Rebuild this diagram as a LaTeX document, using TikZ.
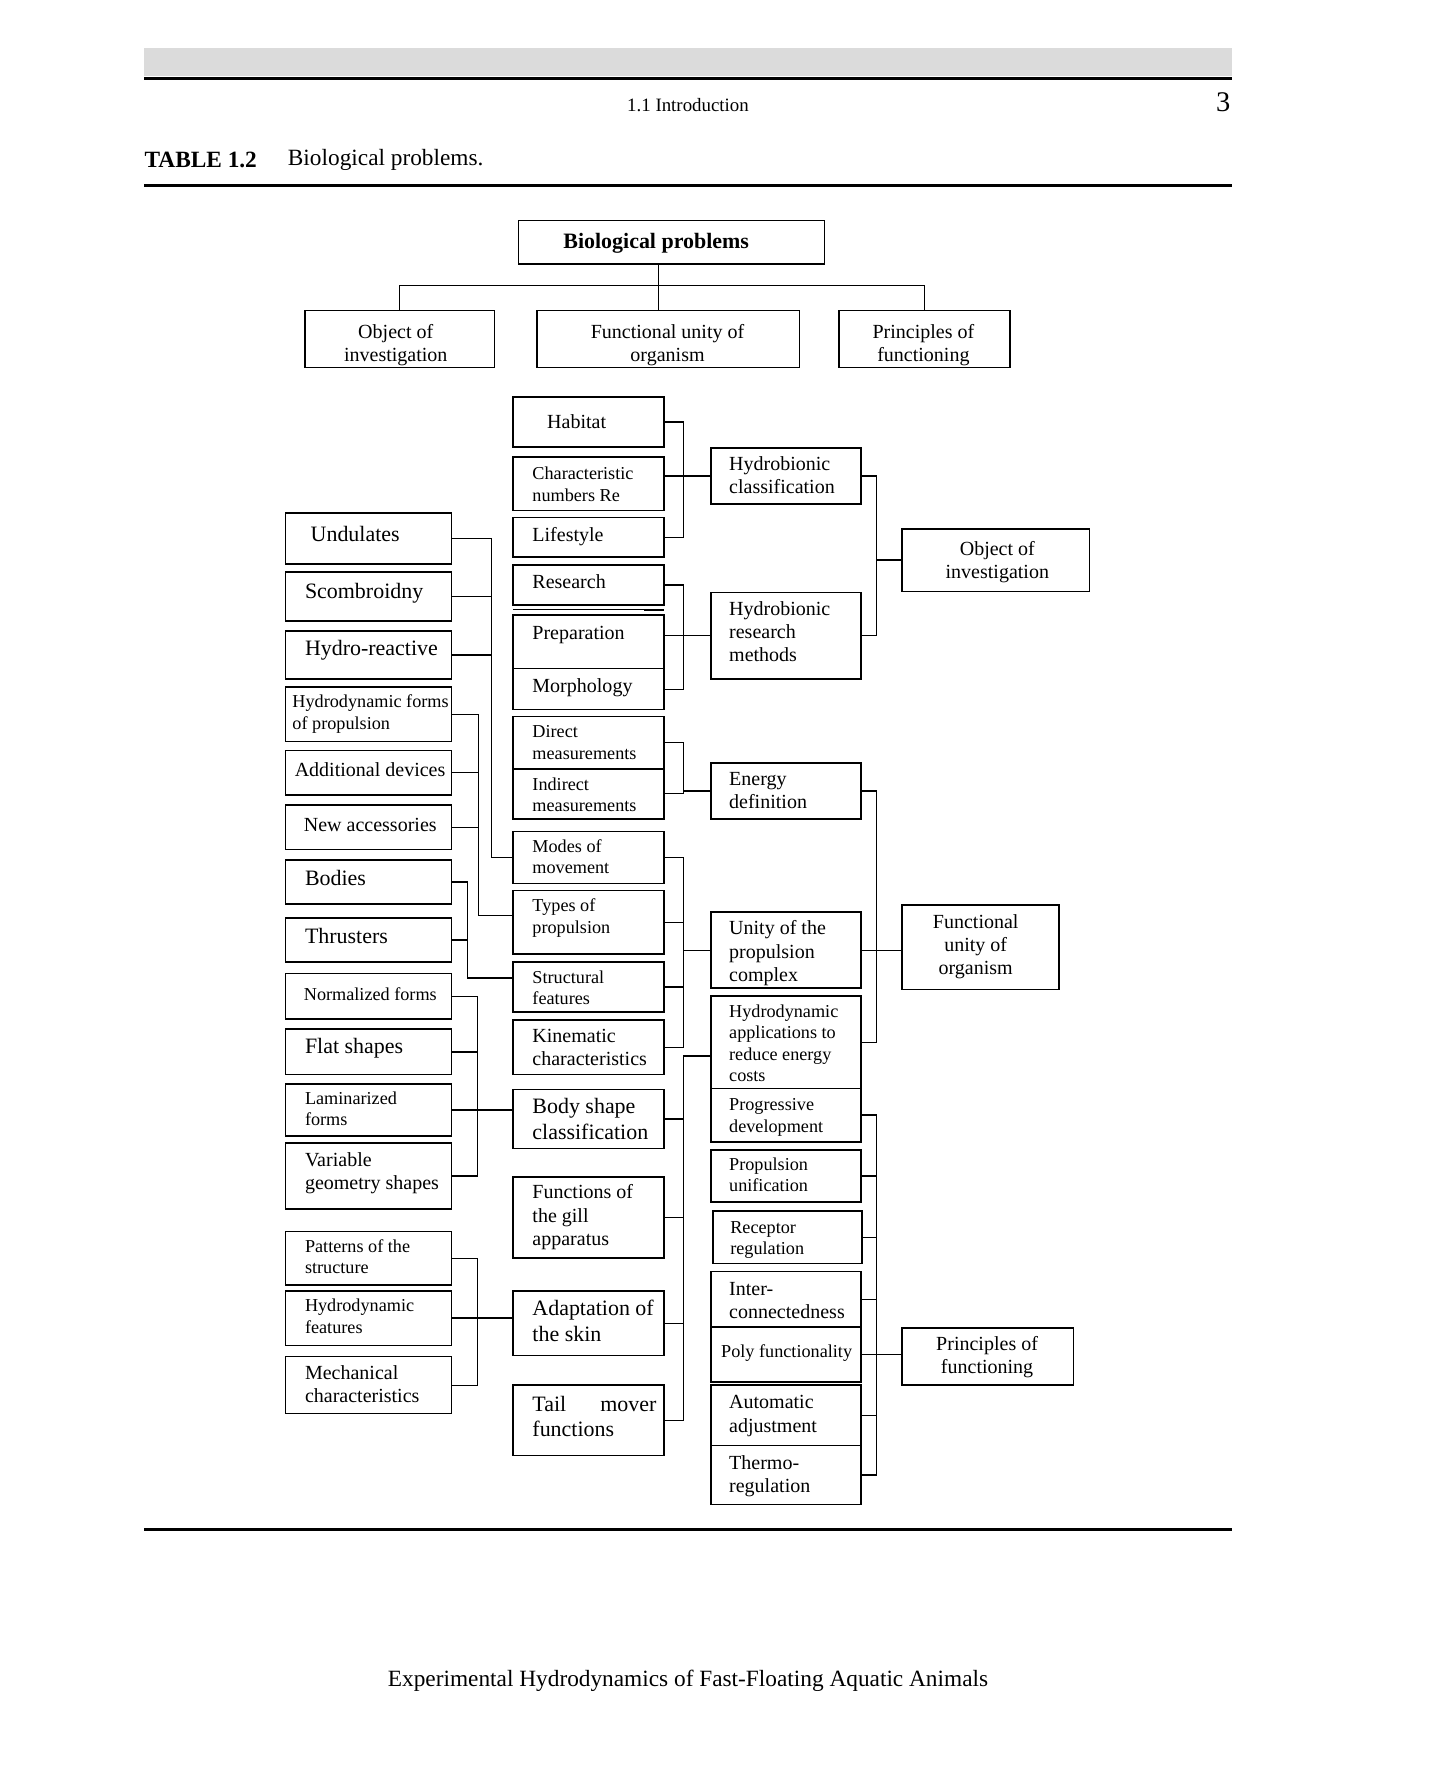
\documentclass[tikz,border=0pt]{standalone}
\usepackage{fontspec}
\setmainfont{Liberation Serif}
\usetikzlibrary{calc}
\newcommand\fbig{\fontsize{19.3}{22.5}\selectfont}
\newcommand\fmed{\fontsize{17.6}{20.5}\selectfont}
\newcommand\fsml{\fontsize{16}{18.8}\selectfont}
\newcommand\bx[5]{\node[bx, minimum width={#4-#2}, minimum height={#5-#3}] (#1) at ({(#2+#4)/2},{(#3+#5)/2}) {};}
\newcommand\lb[5]{\node[tx,font=#2] (#1t) at (#3,#4) {#5};}
\newcommand\nl{\\\strut}
\begin{document}
\begin{tikzpicture}[x=1pt,y=-1pt,
  bx/.style={draw,line width=1.4pt,inner sep=0pt,outer sep=0pt},
  tx/.style={anchor=west,inner sep=0pt,align=left,yshift=-2pt},
  ctx/.style={anchor=center,inner sep=0pt,align=center,yshift=-2pt},
  ln/.style={line width=1.1pt}]
\useasboundingbox (0,0) rectangle (1271,1567);
% page furniture
\fill[gray!28] (127,42) rectangle (1083,67);
\draw[line width=3pt] (127,69) -- (1083,69);
\node[font=\fontsize{16.6}{19}\selectfont] (hdr) at (605,92) {1.1 Introduction};
\node[font=\fontsize{25}{28}\selectfont,anchor=east,inner sep=0pt] (pg) at (1082,90) {3};
\node[font=\fontsize{20.5}{24}\selectfont\bfseries,anchor=west,inner sep=0pt] (tabl) at (127,141) {TABLE 1.2};
\node[font=\fontsize{20.5}{24}\selectfont,anchor=west,inner sep=0pt] (tabt) at (253,141) {Biological problems.};
\draw[line width=3pt] (127,163) -- (1083,163);
\draw[line width=3pt] (127,1345) -- (1083,1345);
\node[font=\fontsize{20.5}{24}\selectfont] (foot) at (605,1478) {Experimental Hydrodynamics of Fast-Floating Aquatic Animals};

% top tree
\bx{bp}{456}{194}{725}{232}
\bx{oi}{268}{273}{435}{323}
\bx{fu}{472}{273}{703}{323}
\bx{pf}{738}{273}{888}{323}
\node[ctx,font=\fbig\bfseries] (bpt) at (577,212) {Biological problems};
\node[ctx,font=\fmed] (oit) at (348,301.5) {\strut Object of\nl investigation};
\node[ctx,font=\fmed] (fut) at (587,301.5) {\strut Functional unity of\nl organism};
\node[ctx,font=\fmed] (pft) at (812,301.5) {\strut Principles of\nl functioning};
\coordinate (tj) at (579,251);
\draw[ln] (bp.south -| tj) -- (fu.north -| tj);
\draw[ln] (oi.north) |- (tj) -| (pf.north);

% middle column
\bx{hab}{451}{349}{584}{393}
\bx{chr}{451}{402}{584}{449}
\bx{lif}{451}{455}{584}{490}
\bx{res}{451}{497}{584}{532}
\bx{pre}{451}{541}{584}{588}
\bx{mor}{451}{588}{584}{624}
\bx{dir}{451}{630}{584}{676}
\bx{ind}{451}{676}{584}{720}
\bx{mom}{451}{731}{584}{777}
\bx{typ}{451}{783}{584}{839}
\bx{str}{451}{846}{584}{890}
\bx{kin}{451}{897}{584}{945}
\bx{bsc}{451}{958}{584}{1010}
\bx{gil}{451}{1035}{584}{1106}
\bx{ada}{451}{1135}{584}{1192}
\bx{tai}{451}{1218}{584}{1280}
\draw[line width=0.9pt] ([yshift=5pt]pre.north west) -- ([yshift=5pt]pre.north east);
\draw[line width=1.8pt] ([yshift=5pt,xshift=-18pt]pre.north east) -- ([yshift=5pt]pre.north east);
\lb{hab}{\fmed}{481}{371}{\strut Habitat}
\lb{chr}{\fsml}{468}{425.5}{\strut Characteristic\nl numbers Re}
\lb{lif}{\fmed}{468}{470}{\strut Lifestyle}
\lb{res}{\fmed}{468}{511}{\strut Research}
\lb{pre}{\fmed}{468}{556}{\strut Preparation}
\lb{mor}{\fmed}{468}{603}{\strut Morphology}
\lb{dir}{\fsml}{468}{652.5}{\strut Direct\nl measurements}
\lb{ind}{\fsml}{468}{698.5}{\strut Indirect\nl measurements}
\lb{mom}{\fsml}{468}{753}{\strut Modes of\nl movement}
\lb{typ}{\fsml}{468}{805.5}{\strut Types of\nl propulsion}
\lb{str}{\fsml}{468}{868.5}{\strut Structural\nl features}
\lb{kin}{\fmed}{468}{921}{\strut Kinematic\nl characteristics}
\lb{bsc}{\fbig}{468}{984}{\strut Body shape\nl classification}
\lb{gil}{\fmed}{468}{1068.5}{\strut Functions of\nl the gill\nl apparatus}
\lb{ada}{\fbig}{468}{1161.5}{\strut Adaptation of\nl the skin}
\lb{tai}{\fbig}{468}{1245.5}{\strut\makebox[109pt][s]{Tail mover}\nl functions}

% third column
\bx{hc}{625}{394}{757}{443}
\bx{hrm}{625}{521}{757}{597}
\bx{en}{625}{671}{757}{720}
\bx{upc}{625}{802}{757}{869}
\bx{ha}{625}{876}{757}{957}
\bx{pd}{625}{957}{757}{1004}
\bx{pu}{625}{1011}{757}{1057}
\bx{rr}{627}{1065}{758}{1111}
\bx{ic}{625}{1118}{757}{1167}
\bx{pfy}{625}{1167}{757}{1215}
\bx{aa}{625}{1218}{757}{1271}
\bx{tr}{625}{1271}{757}{1323}
\lb{hc}{\fmed}{641}{417.5}{\strut Hydrobionic\nl classification}
\lb{hrm}{\fmed}{641}{555.5}{\strut Hydrobionic\nl research\nl methods}
\lb{en}{\fmed}{641}{695}{\strut Energy\nl definition}
\lb{upc}{\fmed}{641}{836.5}{\strut Unity of the\nl propulsion\nl complex}
\lb{ha}{\fsml}{641}{917}{\strut Hydrodynamic\nl applications to\nl reduce energy\nl costs}
\lb{pd}{\fsml}{641}{980.5}{\strut Progressive\nl development}
\lb{pu}{\fsml}{641}{1033}{\strut Propulsion\nl unification}
\lb{rr}{\fsml}{642}{1088}{\strut Receptor\nl regulation}
\lb{ic}{\fmed}{641}{1143}{\strut Inter-\nl connectedness}
\lb{pfy}{\fsml}{634}{1188}{\strut Poly functionality}
\lb{aa}{\fmed}{641}{1243}{\strut Automatic\nl adjustment}
\lb{tr}{\fmed}{641}{1296}{\strut Thermo-\nl regulation}

% fourth column
\bx{oi2}{793}{465}{958}{520}
\bx{fu2}{793}{796}{931}{870}
\bx{pf2}{793}{1168}{944}{1218}
\node[ctx,font=\fmed] (oi2t) at (877,492.5) {\strut Object of\nl investigation};
\node[ctx,font=\fmed] (fu2t) at (858,830.5) {\strut Functional\nl unity of\nl organism};
\node[ctx,font=\fmed] (pf2t) at (868,1191.5) {\strut Principles of\nl functioning};

% left column
\bx{und}{251}{451}{397}{496}
\bx{sco}{251}{503}{397}{546}
\bx{hre}{251}{555}{397}{597}
\bx{hfp}{251}{604}{397}{652}
\bx{add}{251}{660}{397}{699}
\bx{new}{251}{708}{397}{747}
\bx{bod}{251}{756}{397}{795}
\bx{thr}{251}{807}{397}{846}
\bx{nor}{251}{856}{397}{896}
\bx{fla}{251}{905}{397}{945}
\bx{lam}{251}{953}{397}{999}
\bx{var}{251}{1005}{397}{1063}
\bx{pat}{251}{1083}{397}{1130}
\bx{hdf}{251}{1135}{397}{1183}
\bx{mec}{251}{1193}{397}{1243}
\lb{und}{\fbig}{273}{470}{\strut Undulates}
\lb{sco}{\fbig}{268}{520}{\strut Scombroidny}
\lb{hre}{\fbig}{268}{570}{\strut Hydro-reactive}
\lb{hfp}{\fsml}{257}{626}{\strut Hydrodynamic forms\nl of propulsion}
\lb{add}{\fmed}{259}{677}{\strut Additional devices}
\lb{new}{\fmed}{267}{725}{\strut New accessories}
\lb{bod}{\fbig}{268}{772}{\strut Bodies}
\lb{thr}{\fbig}{268}{823}{\strut Thrusters}
\lb{nor}{\fsml}{267}{874}{\strut Normalized forms}
\lb{fla}{\fbig}{268}{920}{\strut Flat shapes}
\lb{lam}{\fsml}{268}{974.5}{\strut Laminarized\nl forms}
\lb{var}{\fmed}{268}{1029.5}{\strut Variable\nl geometry shapes}
\lb{pat}{\fsml}{268}{1105}{\strut Patterns of the\nl structure}
\lb{hdf}{\fsml}{268}{1157}{\strut Hydrodynamic\nl features}
\lb{mec}{\fmed}{268}{1217}{\strut Mechanical\nl characteristics}

% bus positions
\coordinate (b1) at (432,0);
\coordinate (b2) at (421,0);
\coordinate (b3) at (411,0);
\coordinate (b4) at (420,0);
\coordinate (bm) at (601,0);
\coordinate (br) at (771,0);
\coordinate (typj) at ([yshift=6pt]typ.west);
\coordinate (strj) at ([yshift=8pt]str.west);
\coordinate (haj) at ([yshift=-12pt]ha.west);

% left -> middle
\draw[ln] (und.east) -| (mom.west -| b1) -- (mom.west);
\draw[ln] (sco.east) -- (sco.east -| b1);
\draw[ln] (hre.east) -- (hre.east -| b1);
\draw[ln] (hfp.east) -| (typj -| b2) -- (typj);
\draw[ln] (add.east) -- (add.east -| b2);
\draw[ln] (new.east) -- (new.east -| b2);
\draw[ln] (bod.east) -| (strj -| b3) -- (strj);
\draw[ln] (thr.east) -- (thr.east -| b3);
\draw[ln] (nor.east) -| (var.east -| b4) -- (var.east);
\draw[ln] (fla.east) -- (fla.east -| b4);
\draw[ln] (lam.east) -- (lam.east -| bsc.west);
\draw[ln] (pat.east) -| (mec.east -| b4) -- (mec.east);
\draw[ln] (hdf.east) -- (hdf.east -| ada.west);

% middle -> third
\draw[ln] (hab.east) -| (lif.east -| bm) -- (lif.east);
\draw[ln] (hc.west) -- (hc.west -| chr.east);
\draw[ln] (res.east) -| (mor.east -| bm) -- (mor.east);
\draw[ln] (hrm.west) -- (hrm.west -| pre.east);
\draw[ln] (dir.east) -| (ind.east -| bm) -- (ind.east);
\draw[ln] (en.west) -- (en.west -| bm);
\draw[ln] (mom.east) -| (kin.east -| bm) -- (kin.east);
\draw[ln] (typ.east) -- (typ.east -| bm);
\draw[ln] (str.east) -- (str.east -| bm);
\draw[ln] (upc.west) -- (upc.west -| bm);
\draw[ln] (haj) -| (tai.east -| bm) -- (tai.east);
\draw[ln] (bsc.east) -- (bsc.east -| bm);
\draw[ln] (gil.east) -- (gil.east -| bm);
\draw[ln] (ada.east) -- (ada.east -| bm);

% third -> fourth
\draw[ln] (hc.east) -| (hrm.east -| br) -- (hrm.east);
\draw[ln] (oi2.west) -- (oi2.west -| br);
\draw[ln] (en.east) -| (ha.east -| br) -- (ha.east);
\draw[ln] (upc.east) -- (upc.east -| fu2.west);
\draw[ln] (pd.east) -| (tr.east -| br) -- (tr.east);
\draw[ln] (pu.east) -- (pu.east -| br);
\draw[ln] (rr.east) -- (rr.east -| br);
\draw[ln] (ic.east) -- (ic.east -| br);
\draw[ln] (aa.east) -- (aa.east -| br);
\draw[ln] (pfy.east) -- (pfy.east -| pf2.west);
\end{tikzpicture}
\end{document}
